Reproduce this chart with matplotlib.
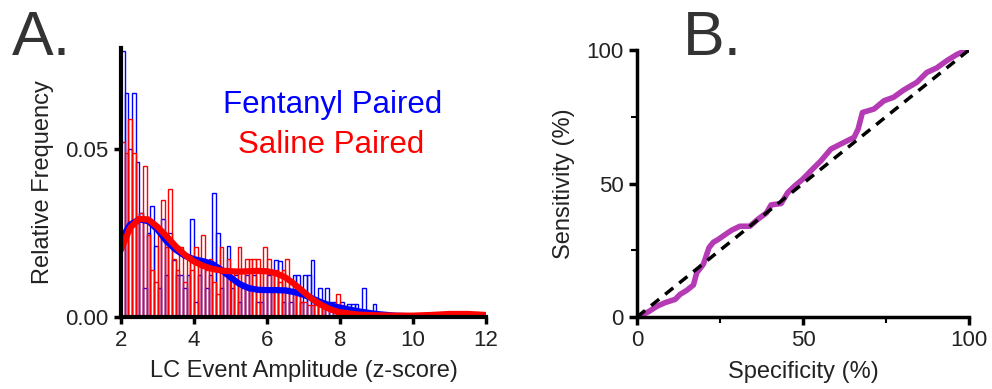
import matplotlib
matplotlib.use("Agg")
import matplotlib.pyplot as plt

plt.rcParams['font.family'] = ['Liberation Sans', 'DejaVu Sans']

# ---------------- Panel A data ----------------
bin_width = 0.1
bin_start = 2.0
fentanyl_freq = [
    0.079, 0.0665, 0.050, 0.0665, 0.046, 0.031, 0.0085, 0.025, 0.033, 0.021,
    0.0085, 0.029, 0.0125, 0.025, 0.017, 0.0125, 0.0125, 0.0085, 0.0125, 0.029,
    0.0045, 0.0125, 0.017, 0.0085, 0.0125, 0.037, 0.025, 0.0085, 0.0125, 0.021,
    0.0085, 0.0125, 0.0045, 0.0085, 0.0125, 0.0085, 0.0125, 0.0045, 0.0045, 0.0085,
    0.0125, 0.0085, 0.017, 0.0168, 0.0045, 0.0085, 0.0045, 0.0125, 0.0125, 0.0045,
    0.0125, 0.0125, 0.017, 0.0045, 0.0085, 0.0045, 0.0085, 0.0045, 0.0045, 0.0,
    0.0045, 0.0, 0.004, 0.004, 0.004, 0.0, 0.0085, 0.0, 0.0, 0.004,
]
saline_freq = [
    0.052, 0.0488, 0.059, 0.0488, 0.028, 0.031, 0.045, 0.0243, 0.014, 0.0104,
    0.0243, 0.0347, 0.0208, 0.038, 0.0173, 0.0139, 0.0208, 0.0104, 0.0173, 0.0139,
    0.0208, 0.0173, 0.0243, 0.0139, 0.0173, 0.0104, 0.0069, 0.0208, 0.0139, 0.0173,
    0.0139, 0.0104, 0.0208, 0.0139, 0.0173, 0.0173, 0.0173, 0.0173, 0.0139, 0.0208,
    0.0173, 0.0139, 0.0139, 0.0104, 0.0139, 0.0173, 0.0104, 0.0084, 0.0069, 0.0045,
    0.0045, 0.0035, 0.0035, 0.0035, 0.0035, 0.0035, 0.0035, 0.0, 0.0035, 0.0069,
    0.0035,
]
# smoothed density curves
curve_x = [2.0, 2.25, 2.5, 2.75, 3.0, 3.25, 3.5, 3.75, 4.0, 4.25, 4.5, 4.75,
           5.0, 5.25, 5.5, 5.75, 6.0, 6.25, 6.5, 6.75, 7.0, 7.25, 7.5, 7.75,
           8.0, 8.5, 9.0, 9.5, 10.0, 10.5, 11.0, 11.5, 12.0]
fentanyl_curve = [0.023, 0.0275, 0.029, 0.0285, 0.026, 0.0225, 0.020, 0.0182, 0.0172,
                  0.0166, 0.0158, 0.014, 0.0118, 0.0098, 0.0086, 0.0081, 0.0080,
                  0.0080, 0.0079, 0.0074, 0.0066, 0.0055, 0.0043, 0.0034, 0.0028,
                  0.0017, 0.0009, 0.0004, 0.0002, 0.0001, 0.0001, 0.0001, 0.0001]
saline_curve = [0.020, 0.0265, 0.0292, 0.029, 0.0268, 0.024, 0.021, 0.0185, 0.0165,
                0.0152, 0.0143, 0.0138, 0.0136, 0.0135, 0.0136, 0.0137, 0.0136,
                0.0130, 0.0118, 0.0098, 0.0075, 0.0052, 0.0035, 0.0022, 0.0014,
                0.0007, 0.0005, 0.0004, 0.0004, 0.0006, 0.0009, 0.0009, 0.0006]
a_xticks = [2, 4, 6, 8, 10, 12]
a_yticks = [0.0, 0.05]
a_yticklabels = ["0.00", "0.05"]

# ---------------- Panel B data ----------------
specificity = [0, 3.5, 6, 8.5, 11.5, 13, 15, 17, 18, 20, 21.7, 23, 24.4, 27.4,
               28.5, 31, 34, 36.4, 39, 40.4, 43.4, 45.4, 47.4, 49.9, 52.4, 55.4,
               58.4, 61.4, 65.4, 66.6, 67.9, 71.4, 74.4, 77.3, 80.3, 84.3, 87.3,
               90.3, 93.3, 96.3, 99.3, 100]
sensitivity = [0, 2, 4, 5.4, 6.6, 8.5, 10, 12, 16.6, 19.8, 26, 28, 29, 31.6,
               32.5, 34, 34, 36.6, 39, 42, 42.5, 46.6, 49, 51.6, 54.8, 58.5,
               62.9, 64.8, 67.3, 70.4, 76.6, 77.9, 81, 82.3, 85, 87.9, 91.6,
               93.3, 96, 98.3, 100, 100]
ref_line = [0, 100]
b_ticks = [0, 50, 100]
b_minor = [25, 75]

blue = '#0000FF'
red = '#FF0000'
magenta = '#B53BB5'
text_col = '#222222'

fig = plt.figure(figsize=(9.92, 3.89), dpi=100)

# ---- Panel A ----
ax = fig.add_axes([121 / 992, 1 - 317 / 389, 365 / 992, 269 / 389])
edges_f = [bin_start + i * bin_width for i in range(len(fentanyl_freq))]
edges_s = [bin_start + i * bin_width for i in range(len(saline_freq))]
ax.bar(edges_f, fentanyl_freq, width=bin_width, align='edge', fill=False,
       edgecolor=blue, linewidth=1.0, zorder=2)
ax.bar(edges_s, saline_freq, width=bin_width, align='edge', fill=False,
       edgecolor=red, linewidth=1.0, zorder=3)
ax.plot(curve_x, fentanyl_curve, color=blue, linewidth=4.5, zorder=4,
        solid_capstyle='round')
ax.plot(curve_x, saline_curve, color=red, linewidth=4.5, zorder=5,
        solid_capstyle='round')
ax.set_xlim(2, 12)
ax.set_ylim(0, 0.08)
ax.set_xticks(a_xticks)
ax.set_yticks(a_yticks)
ax.set_yticklabels(a_yticklabels)
for s in ['top', 'right']:
    ax.spines[s].set_visible(False)
for s in ['left', 'bottom']:
    ax.spines[s].set_linewidth(3)
    ax.spines[s].set_zorder(6)
ax.tick_params(direction='out', length=5, width=2.5, labelsize=16, pad=4,
               colors='black', labelcolor=text_col)
ax.set_xlabel("LC Event Amplitude (z-score)", fontsize=17, color=text_col,
              labelpad=7)
ax.set_ylabel("Relative Frequency", fontsize=17, color=text_col, labelpad=8)
fig.text(223 / 992, 1 - 113 / 389, "Fentanyl Paired", color=blue, fontsize=22.5,
         ha='left', va='baseline')
fig.text(238 / 992, 1 - 153 / 389, "Saline Paired", color=red, fontsize=22.5,
         ha='left', va='baseline')
fig.text(12 / 992, 1 - 55 / 389, "A.", fontsize=45, color='#333333',
         ha='left', va='baseline')

# ---- Panel B ----
bx = fig.add_axes([637 / 992, 1 - 317 / 389, 332 / 992, 267 / 389])
bx.plot(ref_line, ref_line, color='black', linestyle=(0, (3, 2.2)), linewidth=2.5,
        zorder=3)
bx.plot(specificity, sensitivity, color=magenta, linewidth=4, zorder=2,
        solid_joinstyle='round')
bx.set_xlim(0, 100)
bx.set_ylim(0, 100)
bx.set_xticks(b_ticks)
bx.set_yticks(b_ticks)
bx.set_xticks(b_minor, minor=True)
bx.set_yticks(b_minor, minor=True)
for s in ['top', 'right']:
    bx.spines[s].set_visible(False)
for s in ['left', 'bottom']:
    bx.spines[s].set_linewidth(2.5)
bx.tick_params(which='major', direction='out', length=6, width=2.5, labelsize=16,
               labelcolor=text_col)
bx.tick_params(which='minor', direction='out', length=4, width=1.5)
bx.set_xlabel("Specificity (%)", fontsize=17, color=text_col, labelpad=7)
bx.set_ylabel("Sensitivity (%)", fontsize=17, color=text_col, labelpad=8)
fig.text(683 / 992, 1 - 55 / 389, "B.", fontsize=45, color='#333333',
         ha='left', va='baseline')

fig.savefig("out.png", dpi=100)
